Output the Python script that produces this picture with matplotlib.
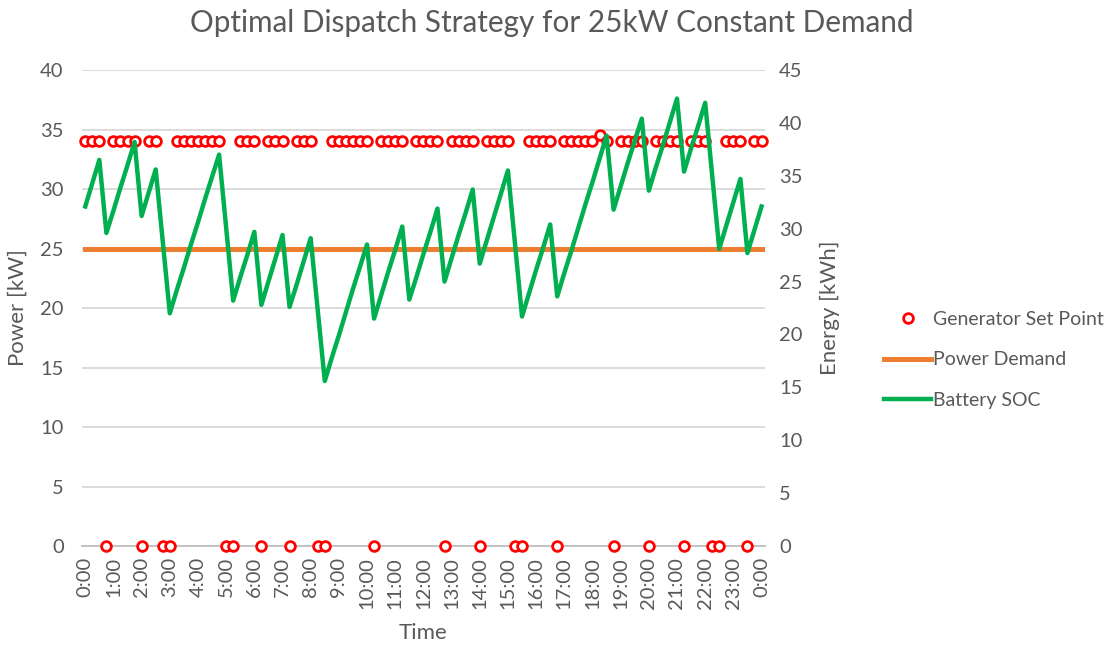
import numpy as np
import matplotlib
matplotlib.use("Agg")
import matplotlib.pyplot as plt
from matplotlib.lines import Line2D

plt.rcParams['font.family'] = ['Lato', 'DejaVu Sans']

GREY = "#595959"

# 15 minute steps, 0:00 until 0:00 next day
steps = list(range(97))

# generator set point [kW], nan where no point is drawn
generator = [34] * 97
for i in [3, 8, 11, 12, 20, 21, 25, 29, 33, 34, 41, 51, 56, 61, 62,
          67, 75, 80, 85, 89, 90, 94]:
    generator[i] = 0
generator[46] = np.nan
generator[73] = 34.5

demand = [25] * 97

# battery state of charge [kWh]
soc = [32.1, 34.3, 36.5, 29.6, 31.7, 33.9, 36.0, 38.2, 31.2, 33.4,
       35.6, 28.8, 22.0, 24.2, 26.3, 28.5, 30.6, 32.8, 34.9, 37.0,
       30.1, 23.2, 25.4, 27.5, 29.7, 22.8, 25.0, 27.2, 29.4, 22.6,
       24.7, 26.9, 29.1, 22.3, 15.6, 17.8, 19.9, 22.1, 24.3, 26.4,
       28.5, 21.5, 23.7, 25.9, 28.0, 30.2, 23.3, 25.4, 27.6, 29.7,
       31.9, 25.0, 27.2, 29.4, 31.5, 33.7, 26.7, 28.9, 31.1, 33.3,
       35.5, 28.6, 21.7, 23.9, 26.1, 28.2, 30.4, 23.6, 25.8, 27.9,
       30.1, 32.3, 34.4, 36.6, 38.8, 31.8, 34.0, 36.2, 38.3, 40.4,
       33.6, 35.8, 37.9, 40.1, 42.3, 35.4, 37.6, 39.7, 41.9, 35.0,
       28.1, 30.3, 32.5, 34.7, 27.7, 29.9, 32.1]


def drawChart():
    fig = plt.figure(figsize=(11.12, 6.46), dpi=100)
    ax = fig.add_axes([0.0735, 0.1548, 0.6145, 0.7368])
    ax2 = ax.twinx()

    # primary axis: generator and demand
    ax.plot(steps, demand, color="#ED7D31", linewidth=3.6, zorder=3)
    ax.plot(steps, generator, linestyle="none", marker="o", markersize=7,
            markerfacecolor="white", markeredgecolor="#FF0000",
            markeredgewidth=2, clip_on=False, zorder=4)

    # secondary axis: battery
    ax2.plot(steps, soc, color="#00B050", linewidth=3.2)

    ax.set_xlim(-0.5, 96.5)
    ax.set_ylim(0, 40)
    ax2.set_ylim(0, 45)
    ax.set_yticks(range(0, 41, 5))
    ax2.set_yticks(range(0, 46, 5))
    ax.set_xticks(range(0, 97, 4))
    ax.set_xticklabels(["%d:00" % ((i // 4) % 24) for i in range(0, 97, 4)],
                       rotation=90)

    ax.grid(axis="y", color="#D9D9D9", linewidth=1.3)
    ax.set_axisbelow(True)
    for a in (ax, ax2):
        for side in a.spines:
            a.spines[side].set_visible(False)
    ax.spines["bottom"].set_visible(True)
    ax.spines["bottom"].set_color("#BFBFBF")
    ax.spines["bottom"].set_linewidth(1.3)

    ax.tick_params(axis="y", length=0, pad=13, labelsize=14.5, labelcolor=GREY)
    ax.tick_params(axis="x", length=0, pad=8, labelsize=14.5, labelcolor=GREY)
    ax2.tick_params(axis="y", length=0, pad=10, labelsize=14.5, labelcolor=GREY)

    # axis titles
    ax.set_ylabel("Power [kW]", fontsize=16, color=GREY)
    ax.yaxis.set_label_coords(-0.079, 0.5)
    ax2.set_ylabel("Energy [kWh]", fontsize=16, color=GREY)
    ax2.yaxis.set_label_coords(1.08, 0.5)
    ax.set_xlabel("Time", fontsize=16, color=GREY)
    ax.xaxis.set_label_coords(0.5, -0.162)

    fig.text(0.496, 0.965, "Optimal Dispatch Strategy for 25kW Constant Demand",
             ha="center", va="center", fontsize=21.4, color=GREY)

    # legend
    handles = [
        Line2D([], [], linestyle="none", marker="o", markersize=7,
               markerfacecolor="white", markeredgecolor="#FF0000",
               markeredgewidth=2),
        Line2D([], [], color="#ED7D31", linewidth=3.6),
        Line2D([], [], color="#00B050", linewidth=3.2),
    ]
    labels = ["Generator Set Point", "Power Demand", "Battery SOC"]
    fig.legend(handles, labels, loc="center left",
               bbox_to_anchor=(0.7795, 0.443), frameon=False, fontsize=14,
               labelcolor=GREY, handlelength=2.4, handletextpad=0.1,
               labelspacing=1.2)

    fig.savefig("out.png", dpi=100)


def main():
    drawChart()


if __name__ == "__main__":
    main()
